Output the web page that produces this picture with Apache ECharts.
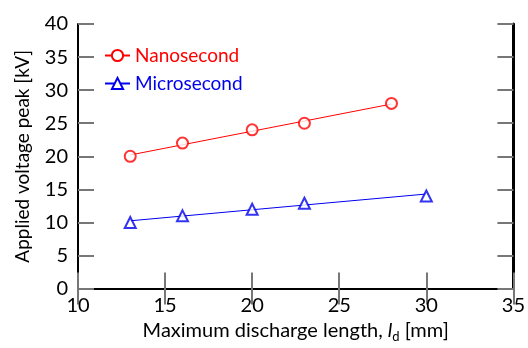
<!DOCTYPE html>
<html>
<head>
<meta charset="utf-8">
<script src="https://cdn.jsdelivr.net/npm/echarts@6/dist/echarts.min.js"></script>
<style>
  html, body { margin: 0; padding: 0; background: #fff; }
  #chart { width: 528px; height: 348px; }
</style>
</head>
<body>
<div id="chart"></div>
<script>
// measured points
const nanoLength = [13, 16, 20, 23, 28];
const nanoVoltage = [20, 22, 24, 25, 28];
const microLength = [13, 16, 20, 23, 30];
const microVoltage = [10, 11, 12, 12.9, 14];

// straight fit lines as drawn (end points)
const nanoFitX = [13, 28];
const nanoFitY = [20.2, 27.9];
const microFitX = [13, 30];
const microFitY = [10.25, 14.3];

const xTicks = [10, 35, 5];
const yTicks = [0, 40, 5];

const RED = "#ff0000";
const BLUE = "#0000ee";
const FONT = "Lato";

const zip = (a, b) => a.map((v, i) => [v, b[i]]);

const chart = echarts.init(document.getElementById("chart"));

const tickStyle = { inside: true, length: 16, lineStyle: { color: "#777", width: 2 } };

const option = {
  animation: false,
  textStyle: { fontFamily: FONT },
  grid: { left: 78, right: 14, top: 24, bottom: 52 },
  legend: {
    orient: "vertical",
    left: 99,
    top: 41,
    itemWidth: 25,
    itemHeight: 14,
    itemGap: 9,
    textStyle: { fontSize: 19, fontFamily: FONT },
    data: [
      { name: "Nanosecond", textStyle: { color: RED } },
      { name: "Microsecond", textStyle: { color: BLUE } },
    ],
  },
  xAxis: [
    {
      type: "value",
      min: xTicks[0],
      max: xTicks[1],
      interval: xTicks[2],
      position: "bottom",
      axisLine: { lineStyle: { color: "#000", width: 2 } },
      axisTick: tickStyle,
      splitLine: { show: false },
      axisLabel: { color: "#000", fontSize: 20, margin: 7 },
      name: "Maximum discharge length, {i|l}{sub|d} [mm]",
      nameLocation: "middle",
      nameGap: 29,
      nameTextStyle: {
        color: "#000",
        fontSize: 20,
        rich: {
          i: { fontStyle: "italic", fontSize: 20, color: "#000" },
          sub: { fontSize: 13, color: "#000", padding: [12, 0, 0, 0] },
        },
      },
    },
    {
      type: "value",
      min: xTicks[0],
      max: xTicks[1],
      interval: xTicks[2],
      position: "top",
      axisLine: { lineStyle: { color: "#000", width: 2 } },
      axisTick: tickStyle,
      splitLine: { show: false },
      axisLabel: { show: false },
    },
  ],
  yAxis: [
    {
      type: "value",
      min: yTicks[0],
      max: yTicks[1],
      interval: yTicks[2],
      position: "left",
      axisLine: { show: true, lineStyle: { color: "#000", width: 2 } },
      axisTick: { show: true, ...tickStyle },
      splitLine: { show: false },
      axisLabel: { color: "#000", fontSize: 20, margin: 10 },
      name: "Applied voltage peak [kV]",
      nameLocation: "middle",
      nameGap: 46,
      nameTextStyle: { color: "#000", fontSize: 19 },
    },
    {
      type: "value",
      min: yTicks[0],
      max: yTicks[1],
      interval: yTicks[2],
      position: "right",
      axisLine: { show: true, lineStyle: { color: "#000", width: 3 } },
      axisTick: { show: true, ...tickStyle },
      splitLine: { show: false },
      axisLabel: { show: false },
    },
  ],
  series: [
    {
      name: "Nanosecond",
      type: "line",
      data: zip(nanoFitX, nanoFitY),
      symbol: "emptyCircle",
      showSymbol: false,
      color: RED,
      lineStyle: { color: RED, width: 1 },
    },
    {
      name: "Microsecond",
      type: "line",
      data: zip(microFitX, microFitY),
      symbol: "emptyTriangle",
      showSymbol: false,
      color: BLUE,
      lineStyle: { color: BLUE, width: 1 },
    },
    {
      name: "nano-points",
      type: "scatter",
      data: zip(nanoLength, nanoVoltage),
      symbol: "emptyCircle",
      symbolSize: 11,
      itemStyle: { color: RED, borderWidth: 1 },
      z: 3,
    },
    {
      name: "micro-points",
      type: "scatter",
      data: zip(microLength, microVoltage),
      symbol: "emptyTriangle",
      symbolSize: 11,
      itemStyle: { color: BLUE, borderWidth: 1 },
      z: 3,
    },
  ],
};

chart.setOption(option);
</script>
</body>
</html>
